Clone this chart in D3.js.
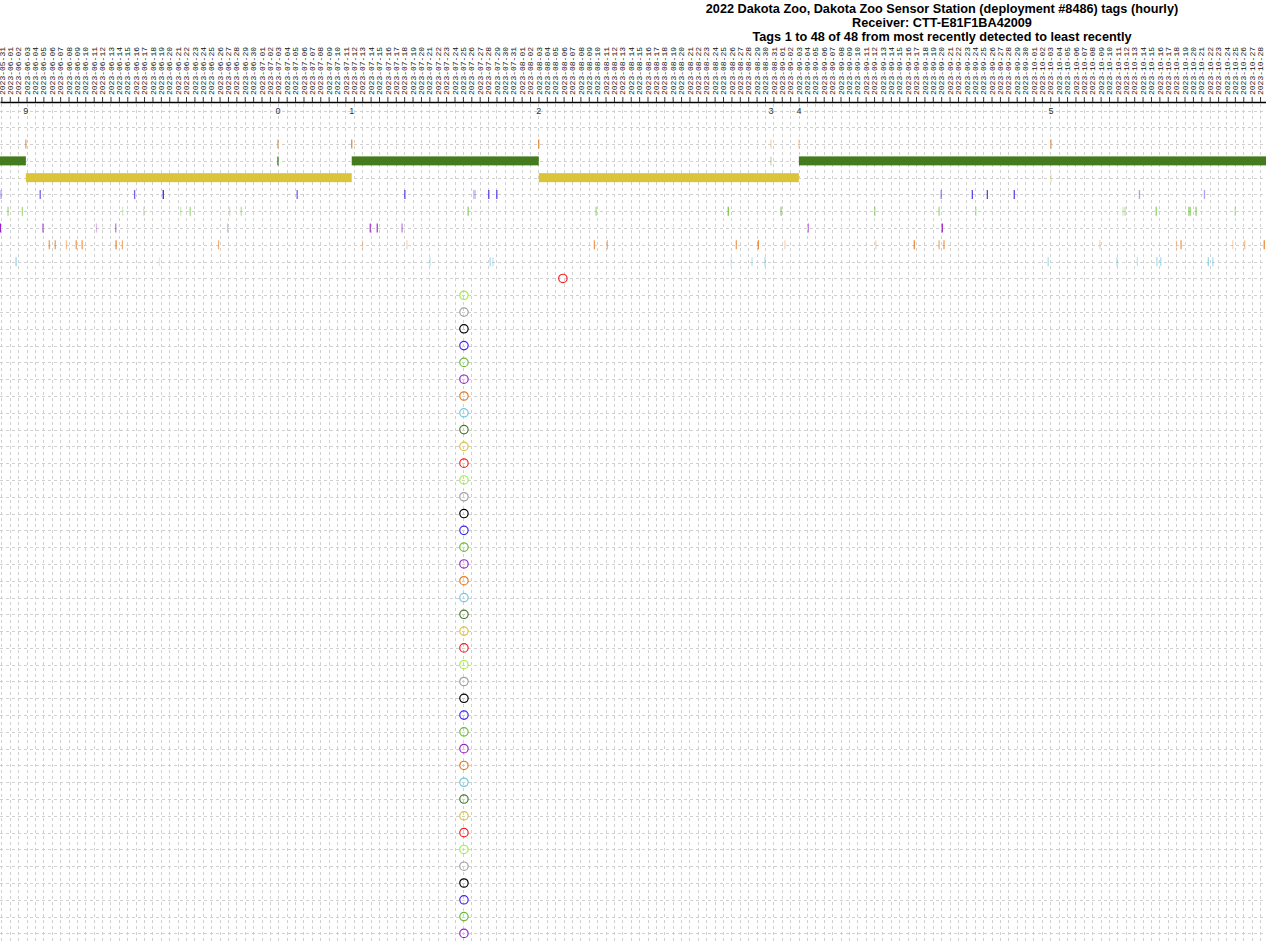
<!DOCTYPE html>
<html>
<head>
<meta charset="utf-8">
<script src="https://cdn.jsdelivr.net/npm/d3@7"></script>
<style>
  html, body { margin: 0; padding: 0; background: #ffffff; }
  svg { display: block; }
</style>
</head>
<body>
<svg id="chart" width="1266" height="943"></svg>
<script>
// ---------------- DATA ----------------
const titleLines = [
  "2022 Dakota Zoo, Dakota Zoo Sensor Station (deployment #8486) tags (hourly)",
  "Receiver: CTT-E81F1BA42009",
  "Tags 1 to 48 of 48 from most recently detected to least recently"
];

const timeRange = ["2023-05-30T20", "2023-10-28T17"];

// receiver boot sessions (label = last digit of boot number)
const bootLabels = ["9", "0", "1", "2", "3", "4", "5"];
const bootTimes = ["2023-06-02T22", "2023-07-02T23", "2023-07-11T18", "2023-08-03T01",
                   "2023-08-30T17", "2023-09-03T01", "2023-10-03T02"];

// tag colours, rows 1..48
const tagColours = [
  "#e8781e", "#457a1e", "#dac43a", "#3c28f0", "#66bf33", "#9a20c8", "#e8781e", "#6cc8e4",
  "#ee2020", "#a0ee44", "#a0a0a0", "#000000", "#3c28f0", "#66bb33", "#9a20c8", "#e8781e",
  "#6cc8e4", "#467828", "#dac43a", "#ee2020", "#a0ee44", "#a0a0a0", "#000000", "#3c28f0",
  "#66bb33", "#9a20c8", "#e8781e", "#6cc8e4", "#467828", "#dac43a", "#ee2020", "#a0ee44",
  "#a0a0a0", "#000000", "#3c28f0", "#66bb33", "#9a20c8", "#e8781e", "#6cc8e4", "#467828",
  "#dac43a", "#ee2020", "#a0ee44", "#a0a0a0", "#000000", "#3c28f0", "#66bb33", "#9a20c8"
];

// continuous hourly detection runs: [tag row, start, end]
const detectionRuns = [
  [2, "2023-05-30T20", "2023-06-02T22"],
  [2, "2023-07-11T18", "2023-08-03T01"],
  [2, "2023-09-03T01", "2023-10-28T17"],
  [3, "2023-06-02T22", "2023-07-11T18"],
  [3, "2023-08-03T01", "2023-09-03T01"]
];

// single hourly detections: [time, hits]
const tag1Hits = [["2023-06-02T22",4],["2023-07-02T23",4],["2023-07-11T18",5],["2023-08-03T01",5],
  ["2023-08-30T17",1],["2023-09-03T01",1],["2023-10-03T02",4]];
const tag2Hits = [["2023-07-02T23",6],["2023-08-30T17",1]];
const tag3Hits = [["2023-10-03T02",2]];
const tag4Hits = [["2023-05-30T23",2],["2023-06-04T15",4],["2023-06-15T21",4],["2023-06-19T07",6],
  ["2023-07-05T06",4],["2023-07-18T02",5],["2023-07-26T07",1],["2023-07-26T11",1],["2023-07-28T02",5],
  ["2023-07-29T01",5],["2023-09-20T00",3],["2023-09-23T17",5],["2023-09-25T12",5],["2023-09-28T17",5],
  ["2023-10-13T15",2],["2023-10-21T09",2]];
const tag5Hits = [["2023-05-31T19",3],["2023-06-02T12",3],["2023-06-14T11",1],["2023-06-16T23",1],
  ["2023-06-21T09",1],["2023-06-22T12",3],["2023-06-27T05",1],["2023-06-28T14",2],["2023-07-25T15",4],
  ["2023-08-09T21",3],["2023-08-25T15",5],["2023-08-31T22",4],["2023-09-12T02",3],["2023-09-19T18",3],
  ["2023-09-24T03",2],["2023-10-11T16",1],["2023-10-11T22",2],["2023-10-15T15",4],["2023-10-19T12",3],
  ["2023-10-19T16",4],["2023-10-20T09",4],["2023-10-25T01",2]];
const tag6Hits = [["2023-05-30T21",6],["2023-06-04T23",4],["2023-06-11T08",1],["2023-06-13T15",3],
  ["2023-06-26T23",1],["2023-07-13T23",5],["2023-07-14T19",5],["2023-07-17T18",3],["2023-09-04T04",3],
  ["2023-09-20T03",6]];
const tag7Hits = [["2023-06-05T17",4],["2023-06-06T10",4],["2023-06-07T18",2],["2023-06-08T22",4],
  ["2023-06-09T15",4],["2023-06-13T16",5],["2023-06-14T10",3],["2023-06-25T21",3],["2023-07-13T01",1],
  ["2023-07-18T08",1],["2023-08-09T16",4],["2023-08-11T05",3],["2023-08-26T14",4],["2023-08-29T05",5],
  ["2023-09-01T09",1],["2023-09-12T05",1],["2023-09-16T19",5],["2023-09-19T18",3],["2023-09-20T08",4],
  ["2023-10-08T22",1],["2023-10-18T01",1],["2023-10-18T14",4],["2023-10-24T18",1],["2023-10-26T04",2],
  ["2023-10-28T12",5]];
const tag8Hits = [["2023-06-01T18",4],["2023-06-18T20",1],["2023-07-21T02",2],["2023-07-28T06",3],
  ["2023-07-28T14",2],["2023-08-25T23",1],["2023-08-28T11",2],["2023-08-30T00",3],["2023-10-02T18",3],
  ["2023-10-10T23",3],["2023-10-13T09",2],["2023-10-15T17",3],["2023-10-16T04",3],["2023-10-21T20",4],
  ["2023-10-22T09",3]];

// tags with only a deployment marker (circle)
const markerTags = d3.range(9, 49);
const markerTimes = ["2023-08-05T22"].concat(d3.range(10, 49).map(() => "2023-07-25T03"));

// ---------------- DRAW ----------------
const W = 1266, H = 943;
const parse = d3.utcParse("%Y-%m-%dT%H");
const svg = d3.select("#chart");

const x = d3.scaleUtc().domain(timeRange.map(parse)).range([0, W]);
const rowKeys = ["boot", "gap"].concat(d3.range(1, 49).map(String));
const y = d3.scalePoint().domain(rowKeys).range([110.5, 933.4]);
const alpha = d3.scaleLinear().domain([1, 6]).range([0.3, 1]).clamp(true);

const axisY = 102;
const days = d3.utcDay.range(d3.utcDay.ceil(x.domain()[0]), x.domain()[1]);

// grid
const grid = svg.append("g").attr("stroke", "#d0d0d0").attr("stroke-width", 1)
  .attr("stroke-dasharray", "3,3").attr("shape-rendering", "crispEdges");
grid.selectAll("line.v").data(days).join("line").attr("class", "v")
  .attr("x1", d => Math.round(x(d)) + 0.5).attr("x2", d => Math.round(x(d)) + 0.5)
  .attr("y1", axisY + 2).attr("y2", H);
grid.selectAll("line.h").data(rowKeys).join("line").attr("class", "h")
  .attr("x1", 0).attr("x2", W)
  .attr("y1", d => Math.round(y(d)) + 0.5).attr("y2", d => Math.round(y(d)) + 0.5);

// axis
const axis = d3.axisTop(x).tickValues(days).tickFormat(d3.utcFormat("%Y-%m-%d"))
  .tickSizeInner(5).tickSizeOuter(0);
const gAxis = svg.append("g").attr("transform", `translate(0,${axisY})`).call(axis);
gAxis.select(".domain").attr("stroke", "#000").attr("stroke-width", 1.3);
gAxis.selectAll(".tick line").attr("stroke", "#333");
gAxis.selectAll(".tick text")
  .attr("transform", "rotate(-90)")
  .attr("x", 7).attr("y", 0).attr("dy", "0.33em")
  .attr("text-anchor", "start")
  .attr("fill", "#111")
  .style("font-family", "'Liberation Mono', 'DejaVu Sans Mono', monospace")
  .style("font-size", "8px");

// boot labels
svg.append("g").selectAll("text").data(bootLabels).join("text")
  .attr("x", (d, i) => x(parse(bootTimes[i])))
  .attr("y", y("boot")).attr("dy", "0.35em")
  .attr("text-anchor", "middle")
  .attr("fill", "#333")
  .style("font-family", "'Liberation Sans', Arial, sans-serif")
  .style("font-size", "9px")
  .text(d => d);

// continuous runs
svg.append("g").selectAll("rect").data(detectionRuns).join("rect")
  .attr("x", d => x(parse(d[1])))
  .attr("width", d => x(parse(d[2])) - x(parse(d[1])))
  .attr("y", d => y(String(d[0])) - 4.5).attr("height", 9)
  .attr("fill", d => tagColours[d[0] - 1]);

// single detections
const tagHits = [tag1Hits, tag2Hits, tag3Hits, tag4Hits, tag5Hits, tag6Hits, tag7Hits, tag8Hits];
tagHits.forEach((hits, i) => {
  const row = String(i + 1);
  svg.append("g").selectAll("line").data(hits).join("line")
    .attr("x1", d => x(parse(d[0]))).attr("x2", d => x(parse(d[0])))
    .attr("y1", y(row) - 4.5).attr("y2", y(row) + 4.5)
    .attr("stroke", tagColours[i]).attr("stroke-width", 1.3)
    .attr("stroke-opacity", d => alpha(d[1]));
});

// deployment markers
svg.append("g").selectAll("circle").data(markerTags).join("circle")
  .attr("cx", (d, i) => x(parse(markerTimes[i])))
  .attr("cy", d => y(String(d)))
  .attr("r", 4.2)
  .attr("fill", "none")
  .attr("stroke", d => tagColours[d - 1])
  .attr("stroke-width", 1.2);

// title
svg.append("g").selectAll("text").data(titleLines).join("text")
  .attr("x", 942).attr("y", (d, i) => 12.5 + i * 14)
  .attr("text-anchor", "middle")
  .attr("fill", "#000")
  .style("font-family", "'Liberation Sans', Arial, sans-serif")
  .style("font-weight", "bold")
  .style("font-size", "12.7px")
  .text(d => d);
</script>
</body>
</html>
